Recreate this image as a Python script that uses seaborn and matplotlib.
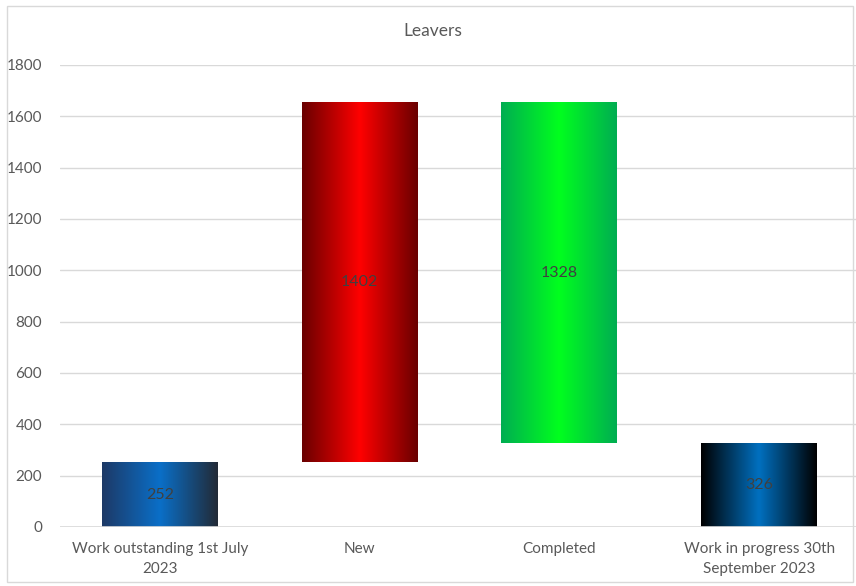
import numpy as np
import matplotlib
matplotlib.use("Agg")
import matplotlib.pyplot as plt
from matplotlib.colors import LinearSegmentedColormap
from matplotlib.patches import Rectangle
import seaborn as sns

categories = ["Work outstanding 1st July\n2023", "New", "Completed",
              "Work in progress 30th\nSeptember 2023"]
values = [252, 1402, 1328, 326]
bottoms = [0, 252, 326, 0]
yticks = [0, 200, 400, 600, 800, 1000, 1200, 1400, 1600, 1800]

# left / centre / right colours of each bar's horizontal gradient
gradients = [
    ["#1D3966", "#0A6FC8", "#222A36"],
    ["#690000", "#FF0000", "#690000"],
    ["#00AD52", "#00FF1E", "#00AD52"],
    ["#000000", "#0070C0", "#000000"],
]

sns.set_theme(style="white")
plt.rcParams["font.family"] = ["Lato", "DejaVu Sans"]
text_col = "#595959"

fig = plt.figure(figsize=(8.56, 5.86), dpi=100)
ax = fig.add_axes([60 / 856, 59 / 586, 799 / 856, 462 / 586])

sns.barplot(x=categories, y=values, ax=ax, width=0.58, color="#0070C0",
            saturation=1, zorder=2)

for patch, b, v, stops in zip(ax.patches, bottoms, values, gradients):
    patch.set_y(b)
    patch.set_height(v)
    patch.set_facecolor("none")
    patch.set_edgecolor("none")
    x0 = patch.get_x()
    w = patch.get_width()
    cmap = LinearSegmentedColormap.from_list("g", stops)
    grad = np.linspace(0, 1, 256).reshape(1, -1)
    im = ax.imshow(grad, cmap=cmap, aspect="auto", extent=(x0, x0 + w, b, b + v),
                   zorder=2, interpolation="bicubic")
    im.set_clip_path(patch)
    ax.text(x0 + w / 2, b + v / 2, f"{v}", ha="center", va="center",
            fontsize=11.5, color="#404040", zorder=3)

ax.set_xlim(-0.5, 3.5)
ax.set_ylim(0, 1800)
ax.set_yticks(yticks)
ax.yaxis.grid(True, color="#D9D9D9", linewidth=1, zorder=0)
ax.axhline(0, color="#D9D9D9", linewidth=1.2, zorder=4)
for s in ax.spines.values():
    s.set_visible(False)
ax.tick_params(axis="both", length=0, labelsize=11, labelcolor=text_col)
ax.tick_params(axis="y", pad=13)
ax.tick_params(axis="x", pad=11)
for lbl in ax.get_xticklabels():
    lbl.set_linespacing(1.55)
ax.set_xlabel("")
ax.set_ylabel("")

fig.text(433 / 856, 1 - 31 / 586, "Leavers", ha="center", va="center",
         fontsize=12.5, color=text_col)

fig.patches.append(Rectangle((7 / 856, 4 / 586), 846 / 856, 576 / 586,
                             transform=fig.transFigure, fill=False,
                             edgecolor="#D9D9D9", linewidth=1))

fig.savefig("out.png", dpi=100)
